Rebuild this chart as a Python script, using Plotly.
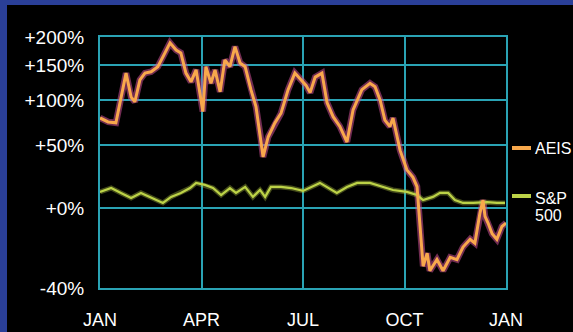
import math
import plotly.graph_objects as go

# Months elapsed since January (0 = JAN, 12 = next JAN)
aeis_month = [0.0, 0.24, 0.47, 0.59, 0.77, 0.92, 1.03, 1.18, 1.33, 1.51, 1.71, 1.92,
              2.07, 2.25, 2.39, 2.54, 2.69, 2.84, 2.96, 3.04, 3.13, 3.28, 3.40, 3.55,
              3.69, 3.84, 3.99, 4.14, 4.29, 4.46, 4.61, 4.76, 4.82, 4.97, 5.17, 5.35,
              5.56, 5.76, 5.94, 6.09, 6.21, 6.36, 6.56, 6.71, 6.89, 7.09, 7.30, 7.48,
              7.74, 7.98, 8.13, 8.28, 8.42, 8.57, 8.66, 8.78, 8.87, 9.07, 9.25, 9.37,
              9.40, 9.46, 9.52, 9.55, 9.67, 9.75, 9.96, 10.14, 10.35, 10.55, 10.73,
              10.94, 11.08, 11.23, 11.32, 11.38, 11.47, 11.59, 11.73, 11.88, 12.0]
# AEIS cumulative change, percent
aeis_pct = [78.5, 74, 73, 97, 138, 104, 98, 128, 138, 140, 148, 171,
            189, 176, 171, 138, 125, 143, 104, 86, 148, 123, 143, 111,
            159, 148, 182, 154, 148, 114, 92, 55, 39, 58, 73, 84,
            114, 138, 128, 120, 110, 132, 138, 97, 80, 69, 53, 88,
            114, 123, 118, 100, 76, 69, 78.5, 58, 45, 28, 22, 15,
            5.5, -7, -22, -31, -25, -33, -28, -33, -27, -28, -22,
            -18, -20, -3, 5.5, -5, -9, -15, -18, -11, -9]

sp_month = [0.0, 0.33, 0.62, 0.92, 1.21, 1.51, 1.86, 2.10, 2.39, 2.66, 2.84, 3.10,
            3.34, 3.58, 3.84, 4.02, 4.29, 4.52, 4.73, 4.88, 5.05, 5.35, 5.65, 6.00,
            6.50, 7.00, 7.30, 7.60, 7.98, 8.37, 8.66, 9.07, 9.37, 9.55, 9.84, 10.05,
            10.29, 10.49, 10.73, 11.03, 11.44, 11.73, 11.97]
# S&P 500 cumulative change, percent
sp_pct = [11.1, 13.9, 10.4, 6.9, 10.4, 6.9, 3.5, 7.6, 10.4, 13.9, 17.7, 16.2,
          13.9, 8.9, 13.9, 10.4, 14.7, 7.6, 12.5, 7.6, 14.7, 14.7, 13.9, 11.8,
          17.7, 10.4, 14.7, 17.7, 17.7, 14.7, 12.5, 11.1, 8.9, 5.5, 7.6, 10.4,
          10.4, 5.5, 3.5, 3.5, 4.0, 3.5, 3.5]

month_ticks = [0, 3, 6, 9, 12]
month_labels = ["JAN", "APR", "JUL", "OCT", "JAN"]
pct_ticks = [-40, 0, 50, 100, 150, 200]
pct_labels = ["-40%", "+0%", "+50%", "+100%", "+150%", "+200%"]

# growth factor (1 + change) on a log axis
aeis_y = [1 + p / 100 for p in aeis_pct]
sp_y = [1 + p / 100 for p in sp_pct]
tick_y = [1 + p / 100 for p in pct_ticks]

ORANGE = "#f8a84c"
GREEN = "#bcd247"
GRID = "#2aa3b4"
BLUE = "#2a3f98"
FONT = "Liberation Sans, Arial, sans-serif"

fig = go.Figure()
# soft halo under the AEIS line
fig.add_trace(go.Scatter(x=aeis_month, y=aeis_y, mode="lines",
                         line=dict(color="rgba(205,80,150,0.55)", width=6.5),
                         hoverinfo="skip"))
fig.add_trace(go.Scatter(x=sp_month, y=sp_y, mode="lines",
                         line=dict(color="rgba(188,210,71,0.35)", width=5),
                         hoverinfo="skip"))
fig.add_trace(go.Scatter(x=sp_month, y=sp_y, mode="lines", name="S&P 500",
                         line=dict(color=GREEN, width=2.2)))
fig.add_trace(go.Scatter(x=aeis_month, y=aeis_y, mode="lines", name="AEIS",
                         line=dict(color=ORANGE, width=3)))

W, H = 573, 332
L, R, T, B = 100, 67, 37, 44
pw, ph = W - L - R, H - T - B


def px(xp):
    return (xp - L) / pw


def py(yp):
    return (H - B - yp) / ph


# blue backdrop strips along the left and top edges
fig.add_shape(type="rect", xref="paper", yref="paper", layer="below",
              x0=px(-20), x1=px(7), y0=py(H + 20), y1=py(-20),
              fillcolor=BLUE, line_width=0)
fig.add_shape(type="rect", xref="paper", yref="paper", layer="below",
              x0=px(-20), x1=px(W + 20), y0=py(5), y1=py(-20),
              fillcolor=BLUE, line_width=0)

# legend keys
for col, yk in [(ORANGE, 148), (GREEN, 196)]:
    fig.add_shape(type="line", xref="paper", yref="paper",
                  x0=px(512), x1=px(531), y0=py(yk), y1=py(yk),
                  line=dict(color=col, width=4))

for txt, yk in [("AEIS", 148), ("S&P", 198), ("500", 215)]:
    fig.add_annotation(text=txt, xref="paper", yref="paper", x=px(533), y=py(yk),
                       xanchor="left", yanchor="middle", showarrow=False,
                       font=dict(family=FONT, size=16, color="white"))

fig.update_xaxes(range=[0, 12], tickvals=month_ticks, ticktext=month_labels,
                 showgrid=True, gridcolor=GRID, gridwidth=2,
                 showline=True, mirror=True, linecolor=GRID, linewidth=2,
                 zeroline=False, ticks="", ticklabelstandoff=14, automargin=False,
                 tickfont=dict(family=FONT, size=18, color="white"))
fig.update_yaxes(type="log", range=[math.log10(0.6), math.log10(3.0)],
                 tickvals=tick_y, ticktext=pct_labels,
                 showgrid=True, gridcolor=GRID, gridwidth=2,
                 showline=True, mirror=True, linecolor=GRID, linewidth=2,
                 zeroline=False, ticks="", ticklabelstandoff=10, automargin=False,
                 tickfont=dict(family=FONT, size=19, color="white"))

fig.update_layout(width=W, height=H, margin=dict(l=L, r=R, t=T, b=B),
                  paper_bgcolor="black", plot_bgcolor="black",
                  showlegend=False)

fig.write_html("out.html")
